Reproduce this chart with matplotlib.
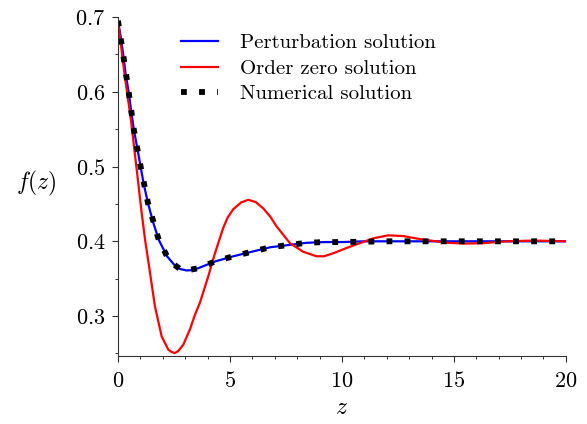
import numpy as np
import matplotlib
matplotlib.use("Agg")
import matplotlib.pyplot as plt
from matplotlib.ticker import MultipleLocator

# --- data ---
z_pert = [0, 0.13, 0.24, 0.34, 0.48, 0.59, 0.71, 0.86, 1.01, 1.15, 1.34, 1.56,
          1.82, 2.19, 2.5, 2.77, 3.07, 3.3, 3.58, 4.0, 4.33, 5.15, 5.97, 6.79,
          7.6, 8.42, 9.24, 10, 11, 12, 14, 16, 18, 20]
f_pert = [0.695, 0.672, 0.648, 0.624, 0.599, 0.574, 0.549, 0.525, 0.500, 0.4765,
          0.451, 0.4265, 0.402, 0.380, 0.369, 0.363, 0.361, 0.3615, 0.364, 0.369,
          0.373, 0.380, 0.386, 0.392, 0.395, 0.398, 0.399, 0.399, 0.400, 0.400,
          0.400, 0.400, 0.400, 0.400]

z_zero = [0, 0.3, 0.58, 0.89, 1.05, 1.21, 1.43, 1.65, 1.95, 2.25, 2.4, 2.54, 2.7,
          2.92, 3.21, 3.44, 3.66, 4.03, 4.33, 4.70, 4.9, 5.15, 5.5, 5.82,
          6.15, 6.49, 6.8, 7.08, 7.4, 7.68, 8.27, 8.87, 9.2, 9.61, 10.2, 10.8,
          11.4, 12.07, 12.74, 13.48, 14.2, 14.75, 15.5, 16.3, 17.35, 18.6, 20]
f_zero = [0.695, 0.622, 0.562, 0.482, 0.440, 0.402, 0.358, 0.313, 0.273, 0.255,
          0.252, 0.2505, 0.2535, 0.262, 0.282, 0.302, 0.318, 0.353, 0.384, 0.418,
          0.432, 0.443, 0.452, 0.4555, 0.4525, 0.444, 0.433, 0.420,
          0.408, 0.3975, 0.386, 0.380, 0.380, 0.384, 0.391, 0.3975, 0.404, 0.408,
          0.407, 0.403, 0.400, 0.398, 0.397, 0.3975, 0.400, 0.401, 0.400]

z_num = [0, 0.24, 0.48, 0.71, 1.01, 1.34, 1.82, 2.19, 2.5, 2.77, 3.07, 3.58,
         4.33, 5.15, 5.97, 6.79, 7.6, 8.42, 9.24, 10, 12, 14, 16, 18, 20]
f_num = [0.695, 0.648, 0.599, 0.549, 0.500, 0.451, 0.402, 0.380, 0.369, 0.363,
         0.361, 0.364, 0.373, 0.380, 0.386, 0.392, 0.395, 0.398, 0.399, 0.399,
         0.400, 0.400, 0.400, 0.400, 0.400]

labels = ["Perturbation solution", "Order zero solution", "Numerical solution"]

plt.rcParams["font.family"] = "serif"
plt.rcParams["font.serif"] = ["cmr10"]
plt.rcParams["mathtext.fontset"] = "cm"
plt.rcParams["axes.formatter.use_mathtext"] = True

fig = plt.figure(figsize=(5.87, 4.24), dpi=100)
ax = fig.add_axes([0.201, 0.161, 0.763, 0.799])

ax.plot(z_pert, f_pert, color="blue", lw=1.6, label=labels[0])
ax.plot(z_zero, f_zero, color="red", lw=1.6, label=labels[1])
ax.plot(z_num, f_num, color="black", lw=4.2, linestyle=(0, (1, 2.1)),
        dash_capstyle="butt", label=labels[2])

ax.set_xlim(0, 20)
ax.set_ylim(0.247, 0.7)
ax.xaxis.set_major_locator(MultipleLocator(5))
ax.xaxis.set_minor_locator(MultipleLocator(1))
ax.yaxis.set_major_locator(MultipleLocator(0.1))
ax.yaxis.set_minor_locator(MultipleLocator(0.05))

for s in ["top", "right"]:
    ax.spines[s].set_visible(False)
for s in ["left", "bottom"]:
    ax.spines[s].set_linewidth(0.8)
    ax.spines[s].set_color("#333333")

ax.tick_params(which="major", direction="out", length=4, width=0.8,
               color="#333333", labelsize=16)
ax.tick_params(which="minor", direction="out", length=2.5, width=0.7,
               color="#333333")
ax.tick_params(axis="y", pad=5)
ax.tick_params(axis="x", pad=7)

ax.set_xlabel("$z$", fontsize=17, va="center")
ax.xaxis.set_label_coords(0.5, -0.155)
ax.set_ylabel("$f(z)$", fontsize=17, rotation=0, va="center", ha="center")
ax.yaxis.set_label_coords(-0.183, 0.51)

ax.legend(loc="upper left", bbox_to_anchor=(0.14, 0.95), frameon=False,
          fontsize=15, borderpad=0, borderaxespad=0, handlelength=1.8,
          handletextpad=1.05, labelspacing=0.33)

fig.savefig("out.png", dpi=100)
